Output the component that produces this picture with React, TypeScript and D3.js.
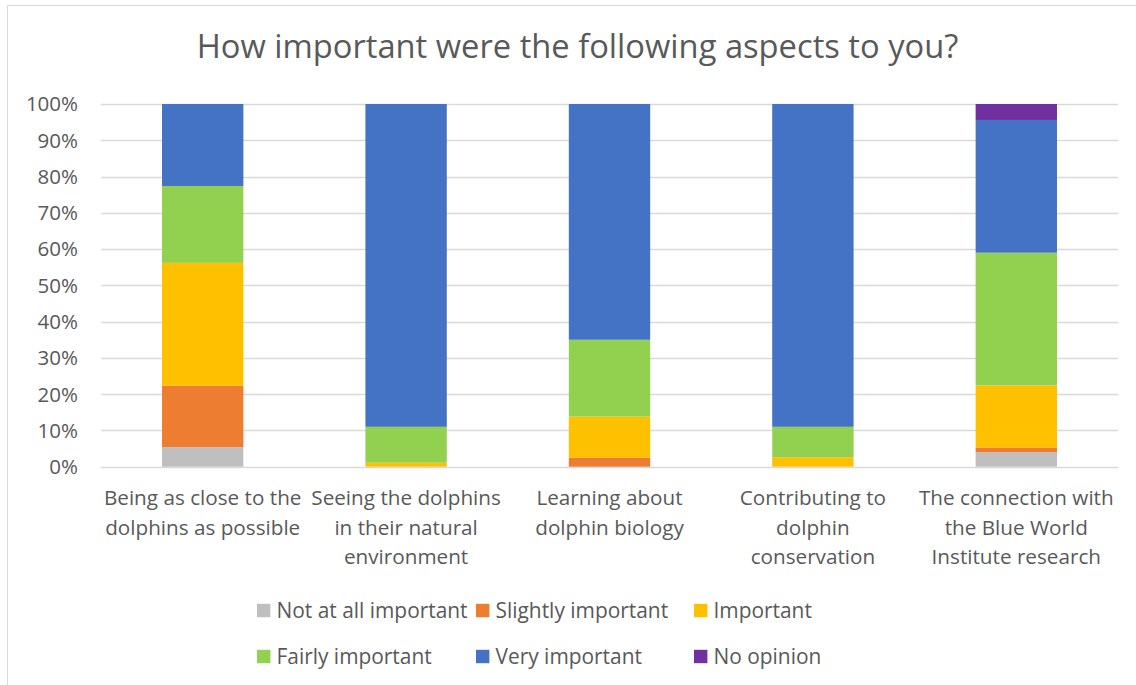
import React, { useEffect, useRef } from "react";
import * as d3 from "d3";

const categories: string[][] = [
  ["Being as close to the", "dolphins as possible"],
  ["Seeing the dolphins", "in their natural", "environment"],
  ["Learning about", "dolphin biology"],
  ["Contributing to", "dolphin", "conservation"],
  ["The connection with", "the Blue World", "Institute research"],
];

const seriesNames = [
  "Not at all important",
  "Slightly important",
  "Important",
  "Fairly important",
  "Very important",
  "No opinion",
];
const seriesColors = ["#bfbfbf", "#ed7d31", "#ffc000", "#92d050", "#4472c4", "#7030a0"];

const notAtAll = [5.4, 0, 0, 0, 4.0];
const slightly = [16.9, 0, 2.5, 0, 1.3];
const important = [33.9, 1.1, 11.3, 2.6, 17.1];
const fairly = [21.2, 9.9, 21.2, 8.4, 36.6];
const very = [22.6, 89.0, 65.0, 89.0, 36.6];
const noOpinion = [0, 0, 0, 0, 4.4];

const yTicks = [0, 10, 20, 30, 40, 50, 60, 70, 80, 90, 100];

const FONT = "'Open Sans', Lato, sans-serif";
const TXT = "#595959";

export default function App() {
  const ref = useRef<SVGSVGElement>(null);
  useEffect(() => {
    const svg = d3.select(ref.current);
    svg.selectAll("*").remove();
    const W = 1136, H = 685;
    const left = 101, right = 1118, top = 104, bottom = 466.7;

    svg.append("line").attr("x1", 7.5).attr("x2", 7.5).attr("y1", 5.5).attr("y2", H).attr("stroke", "#d9d9d9");
    svg.append("line").attr("x1", 7.5).attr("x2", W).attr("y1", 5.5).attr("y2", 5.5).attr("stroke", "#d9d9d9");

    const rows = categories.map((c, i) => ({
      idx: i,
      s0: notAtAll[i], s1: slightly[i], s2: important[i], s3: fairly[i], s4: very[i], s5: noOpinion[i],
    }));
    const keys = ["s0", "s1", "s2", "s3", "s4", "s5"];
    const stacked = d3.stack<any>().keys(keys)(rows);

    const x = d3.scaleBand<number>().domain(rows.map(r => r.idx)).range([left, right]).paddingInner(0.6).paddingOuter(0.3);
    const y = d3.scaleLinear().domain([0, 100]).range([bottom, top]);

    svg.append("text").attr("x", 577.5).attr("y", 58).attr("text-anchor", "middle")
      .attr("font-family", FONT).attr("font-size", 32.7).attr("fill", TXT)
      .text("How important were the following aspects to you?");

    const g = svg.append("g");
    yTicks.forEach(t => {
      g.append("line").attr("x1", left).attr("x2", right)
        .attr("y1", Math.round(y(t)) + 0.5).attr("y2", Math.round(y(t)) + 0.5)
        .attr("stroke", "#d9d9d9").attr("stroke-width", 1.3);
      g.append("text").attr("x", 78).attr("y", y(t)).attr("dy", "0.36em")
        .attr("text-anchor", "end").attr("font-family", FONT).attr("font-size", 20.5)
        .attr("fill", TXT).text(`${t}%`);
    });

    stacked.forEach((layer, li) => {
      g.append("g").selectAll("rect").data(layer).join("rect")
        .attr("x", (d: any) => x(d.data.idx)!)
        .attr("width", x.bandwidth())
        .attr("y", (d: any) => y(d[1]))
        .attr("height", (d: any) => Math.max(0, y(d[0]) - y(d[1])))
        .attr("fill", seriesColors[li]);
    });

    categories.forEach((lines, i) => {
      const cx = x(i)! + x.bandwidth() / 2;
      lines.forEach((ln, j) => {
        svg.append("text").attr("x", cx).attr("y", 505 + j * 29.5).attr("text-anchor", "middle")
          .attr("font-family", FONT).attr("font-size", 20.7).attr("fill", TXT).text(ln);
      });
    });

    const legX = [257, 476, 694];
    const legY = [610.5, 656.5];
    seriesNames.forEach((n, i) => {
      const lx = legX[i % 3], ly = legY[Math.floor(i / 3)];
      svg.append("rect").attr("x", lx).attr("y", ly - 6.7).attr("width", 13.4).attr("height", 13.4).attr("fill", seriesColors[i]);
      svg.append("text").attr("x", lx + 19.5).attr("y", ly).attr("dy", "0.36em")
        .attr("font-family", FONT).attr("font-size", 20.9).attr("fill", TXT).text(n);
    });
  }, []);
  return (
    <svg ref={ref} width={1136} height={685} style={{ position: "absolute", left: 0, top: 0, background: "#fff" }} />
  );
}
